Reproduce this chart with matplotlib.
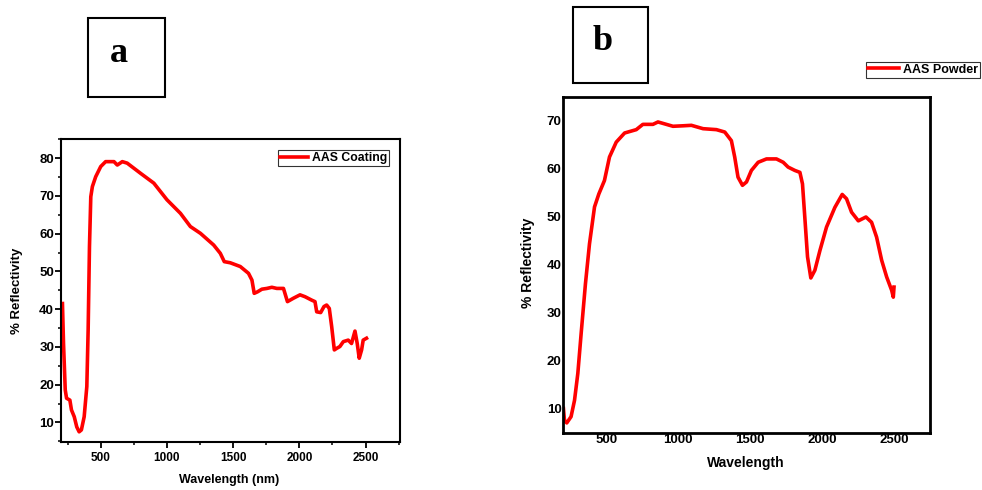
import numpy as np
import matplotlib
matplotlib.use('Agg')
import matplotlib.pyplot as plt
from matplotlib.patches import Rectangle
from matplotlib.ticker import MultipleLocator

plt.rcParams['font.family'] = ['Liberation Sans', 'DejaVu Sans']
plt.rcParams['font.weight'] = 'bold'

# panel a: AAS coating reflectivity
wl_a = [211, 219, 232, 242, 267, 279, 300, 319, 337, 354, 375, 395, 405, 415, 425,
        437, 462, 500, 537, 600, 625, 663, 700, 801, 851, 901, 1000, 1102, 1177,
        1253, 1353, 1403, 1433, 1478, 1554, 1616, 1642, 1659, 1684, 1717, 1755,
        1792, 1830, 1880, 1910, 1955, 2005, 2043, 2093, 2118, 2131, 2161, 2186,
        2206, 2226, 2244, 2264, 2281, 2306, 2332, 2369, 2394, 2420, 2437, 2452,
        2470, 2482, 2507]
ref_a = [41.5, 30.9, 18.6, 16.4, 15.9, 13.3, 11.5, 8.8, 7.5, 8.0, 11.5, 19.5, 34.5,
         56.6, 69.8, 72.5, 75.1, 77.8, 79.1, 79.1, 78.2, 79.1, 78.7, 76.0, 74.7,
         73.4, 69.0, 65.4, 61.9, 60.1, 57.0, 54.8, 52.6, 52.3, 51.3, 49.5, 47.7,
         44.2, 44.6, 45.3, 45.5, 45.8, 45.5, 45.5, 42.0, 42.9, 43.8, 43.3, 42.4,
         42.0, 39.3, 39.1, 40.7, 41.1, 40.2, 35.4, 29.2, 29.6, 30.1, 31.4, 31.8,
         30.9, 34.2, 30.9, 27.0, 29.2, 31.8, 32.3]

# panel b: AAS powder reflectivity
wl_b = [203, 210, 226, 256, 280, 303, 326, 356, 384, 419, 449, 488, 523, 570, 628,
        709, 755, 825, 860, 918, 964, 1034, 1092, 1173, 1266, 1324, 1370, 1393,
        1416, 1447, 1475, 1509, 1556, 1614, 1683, 1730, 1764, 1811, 1846, 1864,
        1880, 1899, 1922, 1950, 1985, 2031, 2089, 2140, 2170, 2205, 2252, 2305,
        2344, 2379, 2414, 2449, 2484, 2495, 2500]
ref_b = [10.0, 7.6, 7.0, 8.3, 11.7, 17.3, 25.6, 36.0, 44.3, 52.0, 54.7, 57.5, 62.4,
         65.5, 67.4, 68.1, 69.2, 69.2, 69.7, 69.2, 68.8, 68.9, 69.0, 68.3, 68.1,
         67.6, 65.8, 62.4, 58.2, 56.5, 57.2, 59.6, 61.3, 62.0, 62.0, 61.3, 60.3,
         59.6, 59.2, 56.8, 49.9, 41.6, 37.2, 38.8, 42.9, 47.8, 51.9, 54.6, 53.7,
         50.9, 49.1, 49.9, 48.8, 45.7, 40.9, 37.4, 34.6, 33.2, 35.3]

W, H = 982, 490
fig = plt.figure(figsize=(W / 100, H / 100), dpi=100)


def fig_box(l, t, r, b):
    return [l / W, 1 - b / H, (r - l) / W, (b - t) / H]


# ---- panel a
ax1 = fig.add_axes(fig_box(61, 139, 400, 442))
ax1.plot(wl_a, ref_a, color='#ff0000', lw=2.6, label='AAS Coating')
ax1.set_xlim(200, 2760)
ax1.set_ylim(4.8, 85.1)
ax1.xaxis.set_major_locator(MultipleLocator(500))
ax1.xaxis.set_minor_locator(MultipleLocator(250))
ax1.yaxis.set_major_locator(MultipleLocator(10))
ax1.yaxis.set_minor_locator(MultipleLocator(5))
ax1.set_xticks([500, 1000, 1500, 2000, 2500])
ax1.set_yticks([10, 20, 30, 40, 50, 60, 70, 80])
ax1.tick_params(which='major', direction='out', length=4, width=1.3)
ax1.tick_params(axis='x', which='major', labelsize=8.5, pad=3)
ax1.tick_params(axis='y', which='major', labelsize=9.5, pad=1)
ax1.tick_params(which='minor', direction='out', length=2.5, width=1.1)
for s in ax1.spines.values():
    s.set_linewidth(1.5)
leg1 = ax1.legend(loc='upper right', fontsize=8.8, frameon=True, fancybox=False,
                  borderpad=0.15, handlelength=2.3, handletextpad=0.3,
                  borderaxespad=0.9)
leg1.get_frame().set_edgecolor('black')
leg1.get_frame().set_linewidth(0.8)
fig.text(229 / W, 1 - 480 / H, 'Wavelength (nm)', ha='center', va='center',
         fontsize=9, fontweight='bold')
fig.text(17 / W, 1 - 291 / H, '% Reflectivity', ha='center', va='center',
         rotation=90, fontsize=9.5, fontweight='bold')

# ---- panel b
ax2 = fig.add_axes(fig_box(563, 97, 930, 433))
ax2.plot(wl_b, ref_b, color='#ff0000', lw=2.6, label='AAS Powder')
ax2.set_xlim(200, 2750)
ax2.set_ylim(4.9, 74.9)
ax2.set_xticks([500, 1000, 1500, 2000, 2500])
ax2.set_yticks([10, 20, 30, 40, 50, 60, 70])
ax2.tick_params(which='major', length=0, labelsize=9.5, pad=1)
for s in ax2.spines.values():
    s.set_linewidth(2)
h, l = ax2.get_legend_handles_labels()
leg2 = fig.legend(h, l, loc='upper left', bbox_to_anchor=(866 / W, 1 - 62 / H),
                  fontsize=9, frameon=True, fancybox=False, borderpad=0.15,
                  handlelength=2.5, handletextpad=0.3, borderaxespad=0)
leg2.get_frame().set_edgecolor('black')
leg2.get_frame().set_linewidth(0.8)
fig.text(746 / W, 1 - 463 / H, 'Wavelength', ha='center', va='center',
         fontsize=10, fontweight='bold')
fig.text(528 / W, 1 - 263 / H, '% Reflectivity', ha='center', va='center',
         rotation=90, fontsize=10, fontweight='bold')

# ---- panel letters in boxes
for (l, t, r, b), (tx, ty), letter in [((88, 18, 165, 97), (119, 53), 'a'),
                                        ((573, 7, 648, 83), (603, 41), 'b')]:
    fig.patches.append(Rectangle((l / W, 1 - b / H), (r - l) / W, (b - t) / H,
                                 transform=fig.transFigure, fill=False,
                                 edgecolor='black', lw=1.5))
    fig.text(tx / W, 1 - ty / H, letter, ha='center', va='center', fontsize=26,
             fontweight='bold', family=['Liberation Serif', 'DejaVu Serif'])

fig.savefig('out.png', dpi=100)
